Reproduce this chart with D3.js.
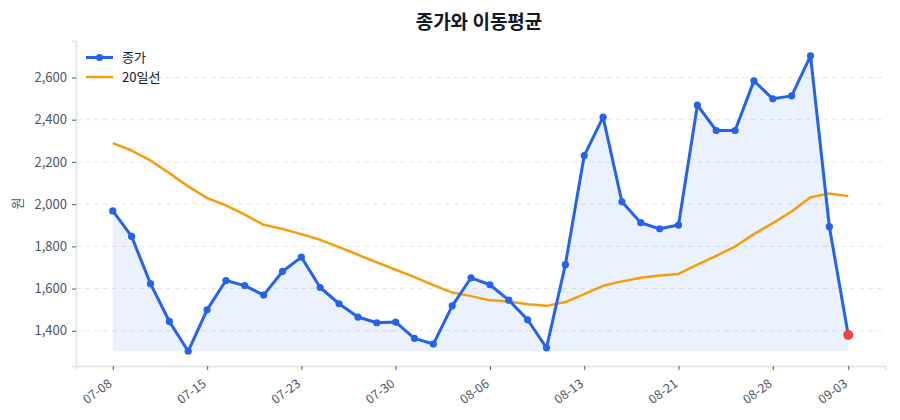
<!DOCTYPE html>
<html><head><meta charset="utf-8">
<script src="https://cdn.jsdelivr.net/npm/d3@7"></script>
<style>
body{margin:0;background:#fff;}
svg text{font-family:"Noto Sans CJK KR","Noto Sans",sans-serif;}
</style></head>
<body><svg id="c" width="900" height="420"></svg>
<script>
const dates = ["07-08","07-09","07-10","07-11","07-12","07-15","07-16","07-17","07-18","07-19",
"07-23","07-24","07-25","07-26","07-29","07-30","07-31","08-01","08-02","08-05",
"08-06","08-07","08-08","08-09","08-12","08-13","08-14","08-16","08-19","08-20",
"08-21","08-22","08-23","08-26","08-27","08-28","08-29","08-30","09-02","09-03"];
const close = [1968,1847,1623,1444,1303,1499,1638,1614,1569,1681,
1749,1605,1528,1465,1438,1441,1364,1337,1518,1651,
1618,1545,1452,1319,1713,2230,2412,2011,1912,1883,
1901,2469,2349,2349,2584,2499,2513,2703,1893,1380];
const ma20 = [2289,2254,2207,2147,2084,2029,1994,1950,1902,1882,
1858,1831,1796,1760,1724,1689,1654,1616,1581,1564,
1544,1539,1526,1518,1536,1574,1613,1634,1651,1662,
1669,1713,1755,1799,1858,1910,1965,2033,2050,2038];
const tickLabels = ["07-08","07-15","07-23","07-30","08-06","08-13","08-21","08-28","09-03"];
const yTicks = [1400,1600,1800,2000,2200,2400,2600];
const title = "종가와 이동평균";
const seriesNames = ["종가","20일선"];
const yLabel = "원";

const svg = d3.select("#c");
const L=76,R=885,T=41,B=366;
const n = close.length;
const pad = (n-1)*0.05;
const x = d3.scaleLinear().domain([-pad, n-1+pad]).range([L,R]);
const lo = d3.min(close), hi = d3.max(close);
const yp = (hi-lo)*0.05;
const y = d3.scaleLinear().domain([lo-yp, hi+yp]).range([B,T]);

// grid
svg.append("g").selectAll("line").data(yTicks).join("line")
  .attr("x1",L).attr("x2",R).attr("y1",d=>y(d)).attr("y2",d=>y(d))
  .attr("stroke","#e5e7eb").attr("stroke-width",1).attr("stroke-dasharray","5,4");

// fill
svg.append("path").datum(close)
  .attr("d", d3.area().x((d,i)=>x(i)).y0(y(lo)).y1(d=>y(d)))
  .attr("fill","#2563eb").attr("fill-opacity",0.09);

// axes
const xa = svg.append("g").attr("transform",`translate(0,${B})`)
  .call(d3.axisBottom(x).tickValues(tickLabels.map(t=>dates.indexOf(t))).tickFormat(i=>dates[i]).tickSize(4).tickPadding(4));
xa.select(".domain").attr("stroke","#e5e7eb").attr("stroke-width",2);
xa.selectAll(".tick line").attr("stroke","#6b7280").attr("stroke-width",1.2);
xa.selectAll(".tick text").attr("fill","#4b5563").attr("font-size",12.5)
  .attr("text-anchor","end").attr("y",0).attr("dy","0.35em")
  .attr("transform","translate(-3,16) rotate(-36)");

const ya = svg.append("g").attr("transform",`translate(${L},0)`)
  .call(d3.axisLeft(y).tickValues(yTicks).tickFormat(d3.format(",")).tickSize(4).tickPadding(5));
ya.select(".domain").attr("stroke","#e5e7eb").attr("stroke-width",2);
ya.selectAll(".tick line").attr("stroke","#6b7280").attr("stroke-width",1.2);
ya.selectAll(".tick text").attr("fill","#4b5563").attr("font-size",13);

// MA line
svg.append("path").datum(ma20)
  .attr("d", d3.line().x((d,i)=>x(i)).y(d=>y(d)))
  .attr("fill","none").attr("stroke","#f59e0b").attr("stroke-width",2.5).attr("stroke-linejoin","round");

// close line
svg.append("path").datum(close)
  .attr("d", d3.line().x((d,i)=>x(i)).y(d=>y(d)))
  .attr("fill","none").attr("stroke","#2563eb").attr("stroke-width",3).attr("stroke-linejoin","round");
svg.append("g").selectAll("circle").data(close.slice(0,n-1)).join("circle")
  .attr("cx",(d,i)=>x(i)).attr("cy",d=>y(d)).attr("r",3.6).attr("fill","#2563eb");
svg.append("circle").attr("cx",x(n-1)).attr("cy",y(close[n-1])).attr("r",5).attr("fill","#ef4444");

// title
svg.append("text").attr("x",479).attr("y",29).attr("text-anchor","middle")
  .attr("font-size",19).attr("font-weight","bold").attr("fill","#111827").text(title);

// y label
svg.append("text").attr("transform",`translate(22,${(T+B)/2}) rotate(-90)`)
  .attr("text-anchor","middle").attr("font-size",13).attr("fill","#4b5563").text(yLabel);

// legend
const lg = svg.append("g");
lg.append("line").attr("x1",86).attr("x2",113).attr("y1",57.5).attr("y2",57.5).attr("stroke","#2563eb").attr("stroke-width",3);
lg.append("circle").attr("cx",99.5).attr("cy",57.5).attr("r",3.6).attr("fill","#2563eb");
lg.append("text").attr("x",122).attr("y",62).attr("font-size",13).attr("fill","#111827").text(seriesNames[0]);
lg.append("line").attr("x1",86).attr("x2",113).attr("y1",77).attr("y2",77).attr("stroke","#f59e0b").attr("stroke-width",2.5);
lg.append("text").attr("x",122).attr("y",81.5).attr("font-size",13).attr("fill","#111827").text(seriesNames[1]);
</script></body></html>
